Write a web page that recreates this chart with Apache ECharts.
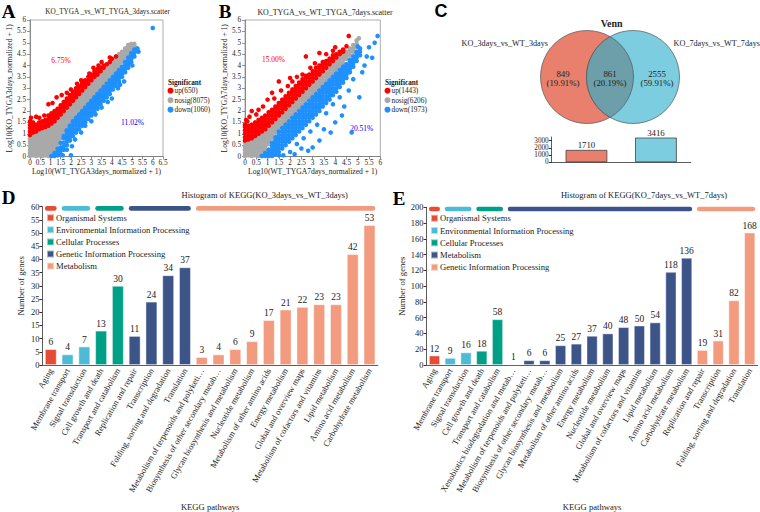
<!DOCTYPE html>
<html><head><meta charset="utf-8">
<script src="https://cdn.jsdelivr.net/npm/echarts@6/dist/echarts.min.js"></script>
<style>html,body{margin:0;padding:0;background:#fff}#c{width:760px;height:512px}</style>
</head><body><div id="c"></div>
<script>
const FONT = "Liberation Serif";

// ---------- Panel A scatter (KO vs WT, 3 days) ----------
// columns: [x, y1, y2, ...] read from the dense clouds; extra lists are isolated points
const legendA = ['up(650)', 'nosig(8075)', 'down(1060)'];
const scatterA_nosig_cols = [
[0.00,0.02,0.15,0.3,0.45,0.6,0.75,0.9],[0.15,0.05,0.2,0.35,0.5,0.65,0.8,0.95],[0.30,0.02,0.15,0.3,0.45,0.6,0.75,0.9,1.0],
[0.45,0.05,0.2,0.35,0.5,0.65,0.8,0.95,1.08],[0.60,0.02,0.15,0.3,0.45,0.6,0.75,0.9,1.05,1.15],[0.75,0.05,0.2,0.35,0.5,0.65,0.8,0.95,1.1,1.2],
[0.90,0.02,0.15,0.3,0.45,0.6,0.75,0.9,1.05,1.2],[1.05,0.1,0.25,0.4,0.55,0.7,0.85,1.0,1.15,1.3],[1.20,0.3,0.45,0.6,0.75,0.9,1.05,1.2,1.35,1.45],
[1.35,0.55,0.7,0.85,1.0,1.15,1.3,1.45,1.6],[1.50,0.8,0.95,1.1,1.25,1.4,1.55,1.7],[1.65,1.05,1.2,1.35,1.5,1.65,1.8,1.9],
[1.80,1.3,1.45,1.6,1.75,1.9,2.05],[1.95,1.5,1.65,1.8,1.95,2.1,2.2],[2.10,1.7,1.85,2.0,2.15,2.3,2.35],[2.25,1.85,2.0,2.15,2.3,2.45,2.5],
[2.40,2.0,2.15,2.3,2.45,2.6,2.65],[2.55,2.15,2.3,2.45,2.6,2.75,2.8],[2.70,2.3,2.45,2.6,2.75,2.9,2.95],[2.85,2.45,2.6,2.75,2.9,3.05,3.1],
[3.00,2.6,2.75,2.9,3.05,3.2,3.25],[3.15,2.75,2.9,3.05,3.2,3.35,3.4],[3.30,2.9,3.05,3.2,3.35,3.5],[3.45,3.05,3.2,3.35,3.5,3.65],
[3.60,3.2,3.35,3.5,3.65,3.8],[3.75,3.35,3.5,3.65,3.8,3.95],[3.90,3.5,3.65,3.8,3.95,4.1],[4.05,3.65,3.8,3.95,4.1,4.2],
[4.20,3.8,3.95,4.1,4.25,4.35],[4.35,3.95,4.1,4.25,4.4,4.5],[4.50,4.15,4.3,4.45,4.6],[4.65,4.3,4.45,4.6,4.75],
[4.80,4.5,4.65,4.8,4.9],[4.95,4.7,4.85,4.95],[5.10,4.85,4.95]];
const scatterA_up_cols = [
[0.00,0.95,1.1,1.25,1.4,1.55],[0.15,1.05,1.2,1.35],[0.30,1.1,1.25,1.4],[0.45,1.2,1.35,1.5],[0.60,1.25,1.4,1.55],[0.75,1.3,1.45,1.6],
[0.90,1.35,1.5,1.65,1.8],[1.05,1.45,1.6,1.75,1.9],[1.20,1.55,1.7,1.85,2.0],[1.35,1.7,1.85,2.0,2.1],[1.50,1.85,2.0,2.15,2.25],
[1.65,2.0,2.15,2.3,2.4],[1.80,2.15,2.3,2.45,2.55],[1.95,2.3,2.45,2.6,2.7],[2.10,2.45,2.6,2.75,2.85],[2.25,2.6,2.75,2.9,3.0],
[2.40,2.75,2.9,3.05,3.1],[2.55,2.9,3.05,3.2,3.25],[2.70,3.05,3.2,3.35],[2.85,3.2,3.35,3.5],[3.00,3.35,3.5,3.6],[3.15,3.5,3.6,3.75],
[3.30,3.6,3.75,3.85],[3.45,3.75,3.9],[3.60,3.9,4.0],[3.75,4.05],[3.90,4.15]];
const scatterA_up_extra = [[0.3,1.75],[0.45,1.7],[0.9,2.3],[1.1,2.35],[1.3,2.6],[1.55,2.7],[2.0,2.95],[2.5,3.35],[2.9,3.65],[3.1,3.9],[3.5,4.15],[3.9,4.35],[0.05,1.7],[0.7,1.8],[1.8,2.8],[2.3,3.2],[3.35,4.0],[4.0,4.3],[4.2,4.4],[0.15,1.5]];
const scatterA_down_cols = [
[1.05,0.02],[1.20,0.02,0.15],[1.35,0.05,0.2,0.35],[1.50,0.1,0.25,0.4,0.6],[1.65,0.3,0.45,0.6,0.8,0.9],[1.80,0.5,0.65,0.8,0.95,1.1,1.15],
[1.95,0.7,0.85,1.0,1.15,1.3,1.35],[2.10,0.9,1.05,1.2,1.35,1.5,1.55],[2.25,1.05,1.2,1.35,1.5,1.65,1.7],[2.40,1.2,1.35,1.5,1.65,1.8,1.85],
[2.55,1.35,1.5,1.65,1.8,1.95,2.0],[2.70,1.5,1.65,1.8,1.95,2.1,2.15],[2.85,1.65,1.8,1.95,2.1,2.25,2.3],[3.00,1.8,1.95,2.1,2.25,2.4,2.45],
[3.15,1.95,2.1,2.25,2.4,2.55,2.6],[3.30,2.1,2.25,2.4,2.55,2.7,2.75],[3.45,2.3,2.45,2.6,2.75,2.9],[3.60,2.45,2.6,2.75,2.9,3.05],
[3.75,2.6,2.75,2.9,3.05,3.2],[3.90,2.75,2.9,3.05,3.2,3.35],[4.05,2.95,3.1,3.25,3.4,3.5],[4.20,3.1,3.25,3.4,3.55,3.65],
[4.35,3.3,3.45,3.6,3.75,3.8],[4.50,3.5,3.65,3.8,3.95],[4.65,3.7,3.85,4.0,4.15],[4.80,3.9,4.05,4.2,4.35],[4.95,4.15,4.3,4.45,4.55],
[5.10,4.4,4.55,4.7],[5.25,4.65,4.75]];
const scatterA_down_extra = [[2.0,0.05],[1.8,0.3],[2.2,0.75],[2.5,1.05],[3.0,1.55],[3.5,2.15],[4.0,2.55],[4.4,3.15],[3.2,1.85],[2.7,1.35],[6.0,5.65],[2.05,0.45],[3.8,2.4],[4.6,3.3],[5.0,4.0],[5.3,4.6],[1.6,0.05],[4.3,3.0]];

// ---------- Panel B scatter (KO vs WT, 7 days) ----------
const legendB = ['up(1443)', 'nosig(6206)', 'down(1973)'];
const scatterB_nosig_cols = [
[0.00,0.02,0.15,0.3,0.45,0.6],[0.15,0.05,0.2,0.35,0.5,0.65],[0.30,0.02,0.15,0.3,0.45,0.6,0.7],[0.45,0.05,0.2,0.35,0.5,0.65,0.75],
[0.60,0.02,0.15,0.3,0.45,0.6,0.75,0.85],[0.75,0.1,0.25,0.4,0.55,0.7,0.85,0.95],[0.90,0.3,0.45,0.6,0.75,0.9,1.05],
[1.05,0.55,0.7,0.85,1.0,1.15,1.25],[1.20,0.8,0.95,1.1,1.25,1.4],[1.35,1.05,1.2,1.35,1.5,1.6],[1.50,1.25,1.4,1.55,1.7],
[1.65,1.4,1.55,1.7,1.85],[1.80,1.55,1.7,1.85,2.0],[1.95,1.7,1.85,2.0,2.15],[2.10,1.85,2.0,2.15,2.3],[2.25,2.0,2.15,2.3,2.45],
[2.40,2.15,2.3,2.45,2.6],[2.55,2.3,2.45,2.6,2.75],[2.70,2.45,2.6,2.75,2.9],[2.85,2.6,2.75,2.9,3.05],[3.00,2.75,2.9,3.05,3.2],
[3.15,2.9,3.05,3.2,3.35],[3.30,3.05,3.2,3.35,3.5],[3.45,3.2,3.35,3.5,3.65],[3.60,3.35,3.5,3.65,3.8],[3.75,3.5,3.65,3.8,3.95],
[3.90,3.65,3.8,3.95,4.1],[4.05,3.8,3.95,4.1,4.25],[4.20,3.95,4.1,4.25,4.4],[4.35,4.1,4.25,4.4,4.55],[4.50,4.3,4.45,4.6],
[4.65,4.45,4.6,4.75],[4.80,4.6,4.75,4.9],[4.95,4.8,4.95,5.1],[5.05,5.2]];
const scatterB_up_cols = [
[0.00,0.7,0.85,1.0,1.15,1.3,1.4],[0.15,0.75,0.9,1.05,1.2,1.35],[0.30,0.8,0.95,1.1,1.25,1.4],[0.45,0.9,1.05,1.2,1.35,1.5],
[0.60,1.0,1.15,1.3,1.45,1.6],[0.75,1.1,1.25,1.4,1.55,1.7],[0.90,1.2,1.35,1.5,1.65,1.8],[1.05,1.35,1.5,1.65,1.8,1.95],
[1.20,1.5,1.65,1.8,1.95,2.05],[1.35,1.65,1.8,1.95,2.1,2.2],[1.50,1.8,1.95,2.1,2.25,2.35],[1.65,1.95,2.1,2.25,2.4,2.5],
[1.80,2.1,2.25,2.4,2.55,2.65],[1.95,2.25,2.4,2.55,2.7,2.8],[2.10,2.4,2.55,2.7,2.85,2.95],[2.25,2.55,2.7,2.85,3.0,3.1],
[2.40,2.7,2.85,3.0,3.15,3.25],[2.55,2.85,3.0,3.15,3.3,3.4],[2.70,3.0,3.15,3.3,3.45,3.55],[2.85,3.15,3.3,3.45,3.6],
[3.00,3.3,3.45,3.6,3.75],[3.15,3.45,3.6,3.75,3.9],[3.30,3.6,3.75,3.9,4.0],[3.45,3.75,3.9,4.05,4.15],[3.60,3.9,4.05,4.2],
[3.75,4.05,4.2,4.3],[3.90,4.2,4.35,4.45],[4.05,4.35,4.5],[4.20,4.5,4.6],[4.35,4.6,4.7]];
const scatterB_up_extra = [[0.1,1.55],[0.3,2.0],[0.5,1.85],[0.8,2.2],[1.0,2.5],[1.2,2.8],[1.6,2.9],[1.9,3.1],[2.1,3.3],[2.3,3.5],[2.55,3.6],[2.7,4.4],[3.3,4.55],[3.6,4.5],[4.0,4.8],[4.5,4.85],[4.6,5.3],[1.5,3.3],[0.2,1.75],[2.9,3.9],[3.9,4.65],[3.1,4.1],[0.6,2.05],[1.3,2.55],[2.0,3.45],[0.05,1.6]];
const scatterB_down_cols = [
[0.75,0.02],[0.90,0.02,0.15],[1.05,0.02,0.15,0.3],[1.20,0.02,0.15,0.3,0.45,0.6],[1.35,0.1,0.25,0.4,0.55,0.7,0.85],
[1.50,0.2,0.35,0.5,0.65,0.8,0.95,1.1],[1.65,0.35,0.5,0.65,0.8,0.95,1.1,1.25],[1.80,0.5,0.65,0.8,0.95,1.1,1.25,1.4],
[1.95,0.65,0.8,0.95,1.1,1.25,1.4,1.55],[2.10,0.8,0.95,1.1,1.25,1.4,1.55,1.7],[2.25,0.95,1.1,1.25,1.4,1.55,1.7,1.85],
[2.40,1.1,1.25,1.4,1.55,1.7,1.85,2.0],[2.55,1.25,1.4,1.55,1.7,1.85,2.0,2.15],[2.70,1.4,1.55,1.7,1.85,2.0,2.15,2.3],
[2.85,1.55,1.7,1.85,2.0,2.15,2.3,2.45],[3.00,1.7,1.85,2.0,2.15,2.3,2.45,2.6],[3.15,1.85,2.0,2.15,2.3,2.45,2.6,2.75],
[3.30,2.0,2.15,2.3,2.45,2.6,2.75,2.9],[3.45,2.2,2.35,2.5,2.65,2.8,2.95,3.05],[3.60,2.35,2.5,2.65,2.8,2.95,3.1,3.2],
[3.75,2.5,2.65,2.8,2.95,3.1,3.25,3.35],[3.90,2.7,2.85,3.0,3.15,3.3,3.45,3.5],[4.05,2.85,3.0,3.15,3.3,3.45,3.6,3.65],
[4.20,3.05,3.2,3.35,3.5,3.65,3.8],[4.35,3.25,3.4,3.55,3.7,3.85,3.95],[4.50,3.45,3.6,3.75,3.9,4.05],[4.65,3.7,3.85,4.0,4.15,4.25],
[4.80,3.95,4.1,4.25,4.4],[4.95,4.2,4.35,4.5,4.6],[5.10,4.45,4.6,4.75]];
const scatterB_down_extra = [[1.5,0.05],[2.0,0.2],[2.3,0.55],[2.6,0.8],[2.9,1.1],[3.2,1.4],[3.6,1.9],[3.9,2.3],[4.2,2.6],[4.73,1.06],[4.3,1.8],[4.6,2.9],[5.07,2.6],[5.3,4.0],[5.64,4.34],[5.88,5.3],[5.0,4.84],[5.5,4.8],[3.3,0.7],[4.0,1.5],[3.0,0.4],[2.2,0.1],[1.7,0.05],[2.5,0.35],[3.5,1.2],[4.4,2.2],[4.8,3.4],[5.2,3.7],[3.8,1.05],[2.8,0.25],[5.4,4.4],[5.75,5.0]];

// ---------- Panel C Venn ----------
const vennSets = ['KO_3days_vs_WT_3days', 'KO_7days_vs_WT_7days'];
const vennTotals = [1710, 3416];
const vennCounts = [849, 861, 2555];
const vennPercents = ['19.91%', '20.19%', '59.91%'];

// ---------- Panel D KEGG (3 days) ----------
const keggD_groups = ['Organismal Systems','Environmental Information Processing','Cellular Processes','Genetic Information Processing','Metabolism'];
const keggD_categories = ['Aging','Membrane transport','Signal transduction','Cell growth and death','Transport and catabolism','Replication and repair','Transcription','Folding, sorting and degradation','Translation','Metabolism of terpenoids and polyketi…','Biosynthesis of other secondary metab…','Glycan biosynthesis and metabolism','Nucleotide metabolism','Metabolism of other amino acids','Energy metabolism','Global and overview maps','Metabolism of cofactors and vitamins','Lipid metabolism','Amino acid metabolism','Carbohydrate metabolism'];
const keggD_values = [6,4,7,13,30,11,24,34,37,3,4,6,9,17,21,22,23,23,42,53];
const keggD_group = [0,1,1,2,2,3,3,3,3,4,4,4,4,4,4,4,4,4,4,4];

// ---------- Panel E KEGG (7 days) ----------
const keggE_groups = ['Organismal Systems','Environmental Information Processing','Cellular Processes','Metabolism','Genetic Information Processing'];
const keggE_categories = ['Aging','Membrane transport','Signal transduction','Cell growth and death','Transport and catabolism','Xenobiotics biodegradation and metab…','Metabolism of terpenoids and polyketi…','Biosynthesis of other secondary metab…','Glycan biosynthesis and metabolism','Metabolism of other amino acids','Energy metabolism','Nucleotide metabolism','Global and overview maps','Metabolism of cofactors and vitamins','Lipid metabolism','Amino acid metabolism','Carbohydrate metabolism','Replication and repair','Transcription','Folding, sorting and degradation','Translation'];
const keggE_values = [12,9,16,18,58,1,6,6,25,27,37,40,48,50,54,118,136,19,31,82,168];
const keggE_group = [0,1,1,2,2,3,3,3,3,3,3,3,3,3,3,3,3,4,4,4,4];

// ---------- styling ----------
const groupColors = ['#E64B35','#4DBBD5','#00A087','#3C5488','#F39B7F'];
const sigColors = {up:'#FF0000', nosig:'#A9A9A9', down:'#1E90FF'};
const vennColors = ['#E9806E','#7CCDE0','#6C9FAA'];

const cols2pts = (cols, extra) => cols.flatMap(([x, ...ys]) => ys.map(y => [x, y])).concat(extra || []);

const chart = echarts.init(document.getElementById('c'), null, {renderer:'svg', width:760, height:512});

function scatterAxes(gi, xmax, xname, yname){
  const common = {
    gridIndex: gi, type:'value', min:0, interval:0.5,
    axisLine:{show:true, lineStyle:{color:'#777', width:0.8}},
    axisTick:{show:true, length:3, lineStyle:{color:'#777', width:0.8}},
    axisLabel:{fontSize:7.2, fontFamily:FONT, color:'#222', margin:3},
    splitLine:{show:false},
    nameLocation:'middle', nameTextStyle:{fontSize:7.6, fontFamily:FONT, color:'#222'}
  };
  return [
    Object.assign({}, common, {max:xmax, name:xname, nameGap:11}),
    Object.assign({}, common, {max:6, name:yname, nameGap:13.5, axisLabel:Object.assign({}, common.axisLabel, {margin:4})})
  ];
}
const [axA_x, axA_y] = scatterAxes(0, 6.5, 'Log10(WT_TYGA3days_normalized + 1)', 'Log10(KO_TYGA3days_normalized + 1)');
const [axB_x, axB_y] = scatterAxes(1, 6, 'Log10(WT_TYGA7days_normalized + 1)', 'Log10(KO_TYGA7days_normalized + 1)');

function scatterSeries(ax, names, nosig, up, down){
  const mk = (name, data, color) => ({type:'scatter', name, xAxisIndex:ax, yAxisIndex:ax, data, symbolSize:4.6, itemStyle:{color, opacity:1}, silent:true});
  return [mk(names[1], nosig, sigColors.nosig), mk(names[0], up, sigColors.up), mk(names[2], down, sigColors.down)];
}

function keggAxes(gi, cats, ymax, yint, yGap){
  return [
    {gridIndex:gi, type:'category', data:cats,
     axisLine:{lineStyle:{color:'#333', width:0.8}},
     axisTick:{alignWithLabel:true, length:3, lineStyle:{color:'#333'}},
     axisLabel:{interval:0, rotate:60, fontSize:8.6, fontFamily:FONT, color:'#222', margin:4},
     name:'KEGG pathways', nameLocation:'middle', nameGap:137, nameTextStyle:{fontSize:8.6, fontFamily:FONT, color:'#222'}},
    {gridIndex:gi, type:'value', min:0, max:ymax, interval:yint,
     axisLine:{show:true, lineStyle:{color:'#333', width:0.8}},
     axisTick:{show:true, length:3, lineStyle:{color:'#333'}},
     axisLabel:{fontSize:8.5, fontFamily:FONT, color:'#222', margin:3},
     splitLine:{show:false},
     name:'Number of genes', nameLocation:'middle', nameGap:yGap, nameTextStyle:{fontSize:8.6, fontFamily:FONT, color:'#222'}}
  ];
}
const [axD_x, axD_y] = keggAxes(3, keggD_categories, 60, 5, 16.5);
const [axE_x, axE_y] = keggAxes(4, keggE_categories, 200, 20, 20.5);

function keggSeries(ax, vals, gidx, groups, stack){
  return groups.map((name, g) => ({
    type:'bar', name, xAxisIndex:ax, yAxisIndex:ax, stack, barWidth:'70%',
    itemStyle:{color:groupColors[g], borderColor:'rgba(255,255,255,0.55)', borderWidth:0.8},
    label:{show:true, position:'top', distance:2, fontSize:9.5, fontFamily:FONT, color:'#222'},
    data: vals.map((v, i) => gidx[i] === g ? v : '-')
  }));
}
function groupRuns(gidx){
  const runs = []; let s = 0;
  for (let i = 1; i <= gidx.length; i++) {
    if (i === gidx.length || gidx[i] !== gidx[s]) { runs.push([s, i - 1, gidx[s]]); s = i; }
  }
  return runs;
}
function groupStrip(ax, gidx, ymax){
  return {
    type:'custom', xAxisIndex:ax, yAxisIndex:ax, silent:true,
    data: groupRuns(gidx),
    encode:{x:0, y:1},
    renderItem(params, api){
      const s = api.value(0), e = api.value(1), g = api.value(2);
      const a = api.coord([s, ymax]), b = api.coord([e, ymax]);
      const band = api.size([1, 0])[0];
      const bw = band * 0.7;
      return {type:'rect', shape:{x:a[0] - bw / 2, y:a[1] - 0.6, width:b[0] - a[0] + bw, height:4.6, r:2.3}, style:{fill:groupColors[g]}};
    }
  };
}
function keggLegend(left, top, groups, gap){
  return {left, top, padding:0, orient:'vertical', icon:'rect', itemWidth:7, itemHeight:7, itemGap:gap,
    textStyle:{fontSize:8.6, lineHeight:9, fontFamily:FONT, color:'#222', padding:[0,0,0,-3]},
    data: groups.map((name, g) => ({name, itemStyle:{color:groupColors[g]}}))};
}
function sigLegend(left, top, names){
  return {left, top, padding:0, orient:'vertical', icon:'circle', itemWidth:6, itemHeight:6, itemGap:1.5,
    textStyle:{fontSize:7.3, lineHeight:8, fontFamily:FONT, color:'#222', padding:[0,0,0,-4]},
    data: [
      {name:names[0], itemStyle:{color:sigColors.up}},
      {name:names[1], itemStyle:{color:sigColors.nosig}},
      {name:names[2], itemStyle:{color:sigColors.down}}
    ]};
}

// Venn diagram (custom series, no axes)
const venn = {
  type:'custom', coordinateSystem:'none', silent:true, data:[[0]],
  renderItem(){
    const cy = 77, r = 46.5, c1 = 587, c2 = 633;
    const mx = (c1 + c2) / 2, h = Math.sqrt(r * r - ((c2 - c1) / 2) ** 2);
    const lens = `M ${mx} ${cy - h} A ${r} ${r} 0 0 1 ${mx} ${cy + h} A ${r} ${r} 0 0 1 ${mx} ${cy - h} Z`;
    const txt = (x, i) => ({type:'text', x, y:78.5, style:{text: vennCounts[i] + '\n(' + vennPercents[i] + ')', align:'center', verticalAlign:'middle', fontSize:8.8, lineHeight:8.8, fontFamily:FONT, fill:'#222'}});
    return {type:'group', children:[
      {type:'circle', shape:{cx:c1, cy, r}, style:{fill:vennColors[0], stroke:'#555', lineWidth:0.7}},
      {type:'circle', shape:{cx:c2, cy, r}, style:{fill:vennColors[1], stroke:'#555', lineWidth:0.7}},
      {type:'path', shape:{pathData:lens}, style:{fill:vennColors[2], stroke:'#555', lineWidth:0.7}},
      txt(563, 0), txt(610, 1), txt(657, 2),
      {type:'text', x:548, y:43.5, style:{text:vennSets[0], align:'right', verticalAlign:'middle', fontSize:8.2, fontFamily:FONT, fill:'#222'}},
      {type:'text', x:673.5, y:43.5, style:{text:vennSets[1], align:'left', verticalAlign:'middle', fontSize:8.2, fontFamily:FONT, fill:'#222'}}
    ]};
  }
};

function label(text, x, y, opts){
  return {type:'text', x, y, silent:true, style:Object.assign({text, align:'center', verticalAlign:'middle', fontFamily:FONT, fontSize:7.5, fill:'#222'}, opts || {})};
}

const option = {
  animation:false,
  backgroundColor:'#fff',
  textStyle:{fontFamily:FONT},
  grid:[
    {left:30, top:20, width:133, height:136.5, show:true, borderColor:'#999', borderWidth:0.8},
    {left:245, top:20, width:135.3, height:136.5, show:true, borderColor:'#999', borderWidth:0.8},
    {left:551.7, top:137, width:139, height:25.3},
    {left:42.4, top:206.7, width:335.5, height:159.3},
    {left:426.6, top:207.3, width:331, height:158.7}
  ],
  xAxis:[axA_x, axB_x,
    {gridIndex:2, type:'category', data:vennSets, axisLabel:{show:false},
     axisLine:{lineStyle:{color:'#333', width:0.8}}, axisTick:{alignWithLabel:true, length:3, lineStyle:{color:'#333'}}},
    axD_x, axE_x],
  yAxis:[axA_y, axB_y,
    {gridIndex:2, type:'value', min:0, max:3500, interval:1000, splitLine:{show:false},
     axisLine:{show:true, lineStyle:{color:'#333', width:0.8}}, axisTick:{show:true, length:3, lineStyle:{color:'#333'}},
     axisLabel:{fontSize:7.2, lineHeight:7, fontFamily:FONT, color:'#222', margin:3, showMaxLabel:false, formatter:v => String(v)}},
    axD_y, axE_y],
  legend:[
    sigLegend(167.5, 86.7, legendA),
    sigLegend(384.5, 86.7, legendB),
    keggLegend(46, 213.2, keggD_groups, 3.1),
    keggLegend(430, 213.8, keggE_groups, 3.25)
  ],
  series:[
    ...scatterSeries(0, legendA, cols2pts(scatterA_nosig_cols), cols2pts(scatterA_up_cols, scatterA_up_extra), cols2pts(scatterA_down_cols, scatterA_down_extra)),
    ...scatterSeries(1, legendB, cols2pts(scatterB_nosig_cols), cols2pts(scatterB_up_cols, scatterB_up_extra), cols2pts(scatterB_down_cols, scatterB_down_extra)),
    {type:'bar', xAxisIndex:2, yAxisIndex:2, barWidth:'60%', silent:true,
     data: vennTotals.map((v, i) => ({value:v, itemStyle:{color:vennColors[i], borderColor:'#444', borderWidth:0.8}})),
     label:{show:true, position:'top', distance:0, fontSize:8.8, fontFamily:FONT, color:'#222'}},
    venn,
    ...keggSeries(3, keggD_values, keggD_group, keggD_groups, 'D'),
    groupStrip(3, keggD_group, 60),
    ...keggSeries(4, keggE_values, keggE_group, keggE_groups, 'E'),
    groupStrip(4, keggE_group, 200)
  ],
  graphic:[
    label('A', 8.5, 11, {fontSize:19, fontWeight:'bold', fill:'#000'}),
    label('B', 225, 11, {fontSize:19, fontWeight:'bold', fill:'#000'}),
    label('C', 441, 11, {fontSize:18, fontWeight:'bold', fill:'#000', fontFamily:'Liberation Sans'}),
    label('D', 8.5, 197, {fontSize:19, fontWeight:'bold', fill:'#000'}),
    label('E', 399, 198, {fontSize:19, fontWeight:'bold', fill:'#000'}),
    label('KO_TYGA _vs_WT_TYGA_3days.scatter', 107.5, 12.3, {fontSize:7.2}),
    label('KO_TYGA_vs_WT_TYGA_7days.scatter', 325, 12.5, {fontSize:7.9}),
    label('6.75%', 61, 60, {fill:'#FF0000'}),
    label('11.02%', 132.5, 122.5, {fill:'#0000EE'}),
    label('15.00%', 273.5, 59.5, {fill:'#FF0000'}),
    label('20.51%', 361.7, 128, {fill:'#0000EE'}),
    label('Significant', 168, 82.7, {align:'left', fontWeight:'bold', fontSize:7.2}),
    label('Significant', 385, 83.3, {align:'left', fontWeight:'bold', fontSize:7.2}),
    label('Venn', 611.7, 23.3, {fontSize:10, fontWeight:'bold'}),
    label('Histogram of KEGG(KO_3days_vs_WT_3days)', 264.7, 195, {fontSize:8.5}),
    label('Histogram of KEGG(KO_7days_vs_WT_7days)', 644, 195, {fontSize:8.5})
  ]
};
chart.setOption(option);
</script>
</body></html>
